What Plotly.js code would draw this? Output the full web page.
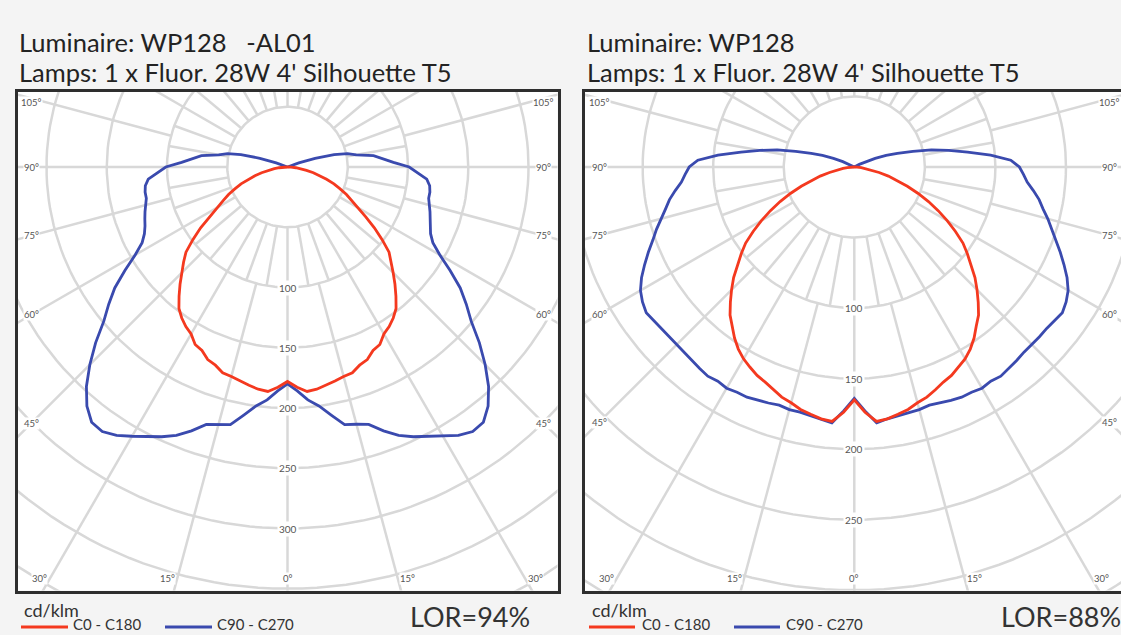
<!DOCTYPE html>
<html><head><meta charset="utf-8">
<script src="https://cdn.plot.ly/plotly-3.0.1.min.js"></script>
<style>html,body{margin:0;padding:0;background:#f4f4f4;}#chart{width:1121px;height:635px;}</style>
</head><body><div id="chart"></div>
<script>
// ---- data (cd/klm vs gamma, degrees from nadir; symmetric planes drawn on both sides) ----
const gamma = [0,2.5,5,7.5,10,12.5,15,17.5,20,22.5,25,27.5,30,32.5,35,37.5,40,42.5,45,47.5,50,52.5,55,57.5,60,62.5,65,67.5,70,72.5,75,77.5,80,82.5,85,87.5,90,92.5,95,97.5,100,102.5,105,107.5,110,112.5,115,117.5,120];
const leftC0C180 = [178,183,187,186,184,182,180,179,175,173,168,166,160,157,153,148,140,132,124,117,110,99,88,77,67,60,54,47,41,34,28,22,16,11,7,3,0,0,0,0,0,0,0,0,0,0,0,0,0];
const leftC90C270 = [180,186,194,200,209,219,221,224,233,241,247,252,258,264,268,267,259,247,232,216,199,187,175,160,146,136,131,128,126,124,122,120,120,119,116,108,101,88,79,72,58,51,40,24,10,2,0,0,0];
const rightC0C180 = [165,174,181,180,178,176,173,171,168,165,163,160,157,153,148,142,137,130,123,116,108,101,94,85,76,67,58,49,40,32,25,18,12,8,5,2,0,0,0,0,0,0,0,0,0,0,0,0,0];
const rightC90C270 = [164,173,182,180,179,178,178,177,178,179,180,180,181,180,181,180,179,178,178,178,178,179,180,178,175,170,164,158,152,147,142,137,133,128,123,120,117,111,97,81,68,56,43,32,24,16,9,4,0];
const ringValues = [50,100,150,200,250,300,350,400,450];
const leftRingLabels = [100,150,200,250,300];
const rightRingLabels = [100,150,200,250];
const sideAngleLabels = [105,90,75,60,45];
const bottomAngleLabels = [30,15,0];
const seriesNames = ['C0 - C180','C90 - C270'];
const leftTitle = ['Luminaire: WP128\u00a0\u00a0\u00a0-AL01','Lamps: 1 x Fluor. 28W 4\' Silhouette T5'];
const rightTitle = ['Luminaire: WP128','Lamps: 1 x Fluor. 28W 4\' Silhouette T5'];
const leftLOR = 'LOR=94%', rightLOR = 'LOR=88%';
const unitLabel = 'cd/klm';

// ---- layout ----
const W = 1121, H = 635;
const RED = '#f4391f', BLUE = '#3a4aae', GRID = '#d8d8d8', FONT = 'Lato';
const panels = [
  {xa:'x', ya:'y', x0:17.5, x1:557.5, y0:92, y1:590.5, cx:287.5, cy:167, k:1.205,
   red:leftC0C180, blue:leftC90C270, rings:leftRingLabels, mirrorY:true,
   title:leftTitle, lor:leftLOR,
   tx:17, unitX:22, redL:[21,68], redT:71, blueL:[165,212], blueT:215, lorX:408},
  {xa:'x2', ya:'y2', x0:585, x1:1121, y0:92, y1:590.5, cx:854.3, cy:167, k:1.411,
   red:rightC0C180, blue:rightC90C270, rings:rightRingLabels, mirrorY:false,
   title:rightTitle, lor:rightLOR,
   tx:585, unitX:590, redL:[589,635], redT:640, blueL:[734,780], blueT:784, lorX:999}
];

const rad = d => d*Math.PI/180;
const traces = [], annotations = [], shapes = [];
const layout = {width:W, height:H, margin:{l:0,r:0,t:0,b:0}, paper_bgcolor:'#f4f4f4',
  plot_bgcolor:'#ffffff', showlegend:false, annotations, shapes};

function paperAnn(text, xpx, ypx, size, color, yanchor){
  return {xref:'paper', yref:'paper', x:xpx/W, y:1-ypx/H, text, showarrow:false,
    xanchor:'left', yanchor:yanchor||'middle', font:{family:FONT, size, color}};
}

panels.forEach((p, i) => {
  const sfx = i === 0 ? '' : '2';
  layout['xaxis'+sfx] = {domain:[p.x0/W, p.x1/W], range:[(p.x0-p.cx)/p.k, (p.x1-p.cx)/p.k],
    showgrid:false, zeroline:false, showticklabels:false, ticks:'', fixedrange:true,
    showline:true, linecolor:'#2e2e2e', linewidth:3, mirror:true, anchor:'y'+sfx};
  layout['yaxis'+sfx] = {domain:[1-p.y1/H, 1-p.y0/H], range:[-(p.y1-p.cy)/p.k, (p.cy-p.y0)/p.k],
    showgrid:false, zeroline:false, showticklabels:false, ticks:'', fixedrange:true,
    showline:true, linecolor:'#2e2e2e', linewidth:3, mirror:p.mirrorY, anchor:'x'+sfx};

  // grid rings
  const rx = [], ry = [];
  ringValues.forEach(r => { for (let a=0; a<=360; a+=2){ rx.push(r*Math.cos(rad(a))); ry.push(r*Math.sin(rad(a))); } rx.push(null); ry.push(null); });
  // spokes: fine spokes in the inner band, 15-degree spokes outward
  const sx = [], sy = [];
  for (let a=0; a<360; a+=10){ sx.push(50*Math.sin(rad(a)), 100*Math.sin(rad(a)), null); sy.push(-50*Math.cos(rad(a)), -100*Math.cos(rad(a)), null); }
  for (let a=0; a<360; a+=15){ sx.push(100*Math.sin(rad(a)), 700*Math.sin(rad(a)), null); sy.push(-100*Math.cos(rad(a)), -700*Math.cos(rad(a)), null); }
  traces.push({type:'scatter', mode:'lines', x:rx, y:ry, xaxis:p.xa, yaxis:p.ya, line:{color:GRID, width:2.5}, hoverinfo:'skip'});
  traces.push({type:'scatter', mode:'lines', x:sx, y:sy, xaxis:p.xa, yaxis:p.ya, line:{color:GRID, width:2.5}, hoverinfo:'skip'});

  // photometric curves: left half (mirrored plane) then right half
  function curve(vals, color, name){
    const x = [], y = [];
    for (let j=gamma.length-1; j>=0; j--){ x.push(-vals[j]*Math.sin(rad(gamma[j]))); y.push(-vals[j]*Math.cos(rad(gamma[j]))); }
    for (let j=1; j<gamma.length; j++){ x.push(vals[j]*Math.sin(rad(gamma[j]))); y.push(-vals[j]*Math.cos(rad(gamma[j]))); }
    traces.push({type:'scatter', mode:'lines', name, x, y, xaxis:p.xa, yaxis:p.ya, line:{color, width:2.8}, hoverinfo:'skip'});
  }
  curve(p.blue, BLUE, seriesNames[1]);
  curve(p.red, RED, seriesNames[0]);

  // ring value labels on the 0-degree spoke
  p.rings.forEach(r => annotations.push({xref:p.xa, yref:p.ya, x:0, y:-r, text:String(r), showarrow:false,
    bgcolor:'#ffffff', borderpad:1, font:{family:FONT, size:10, color:'#555'}}));

  // angle labels along the box edges
  const halfW = (p.cx - p.x0)/p.k, top = (p.cy - p.y0)/p.k, bot = (p.y1 - p.cy)/p.k;
  const xin = halfW - 14/p.k;
  sideAngleLabels.forEach(g => {
    const t = xin/Math.sin(rad(g));
    let yv = -t*Math.cos(rad(g));
    yv = Math.min(yv, top - 10/p.k);
    [-1,1].forEach(s => annotations.push({xref:p.xa, yref:p.ya, x:s*xin, y:yv, text:g+'°', showarrow:false,
      bgcolor:'#ffffff', borderpad:0, font:{family:FONT, size:9.5, color:'#555'}}));
  });
  const ybin = bot - 12/p.k;
  bottomAngleLabels.forEach(g => {
    const xv = ybin*Math.tan(rad(g));
    const sides = g === 0 ? [1] : [-1,1];
    sides.forEach(s => annotations.push({xref:p.xa, yref:p.ya, x:s*xv, y:-ybin, xshift:g===0?0:s*10, text:g+'°', showarrow:false,
      bgcolor:'#ffffff', borderpad:0, font:{family:FONT, size:9.5, color:'#555'}}));
  });

  // titles, unit, legend, LOR
  annotations.push(paperAnn(p.title[0], p.tx, 42, 25.5, '#232323'));
  annotations.push(paperAnn(p.title[1], p.tx, 72, 25.5, '#232323'));
  annotations.push(paperAnn(unitLabel, p.unitX, 610, 18, '#333'));
  annotations.push(paperAnn(seriesNames[0], p.redT, 634.5, 15, '#333', 'bottom'));
  annotations.push(paperAnn(seriesNames[1], p.blueT, 634.5, 15, '#333', 'bottom'));
  annotations.push(paperAnn(p.lor, p.lorX, 634.5, 27, '#333', 'bottom'));
  shapes.push({type:'line', xref:'paper', yref:'paper', x0:p.redL[0]/W, x1:p.redL[1]/W, y0:1-627/H, y1:1-627/H, line:{color:RED, width:3}});
  shapes.push({type:'line', xref:'paper', yref:'paper', x0:p.blueL[0]/W, x1:p.blueL[1]/W, y0:1-627/H, y1:1-627/H, line:{color:BLUE, width:3}});
});

Plotly.newPlot('chart', traces, layout, {staticPlot:true});
</script></body></html>
